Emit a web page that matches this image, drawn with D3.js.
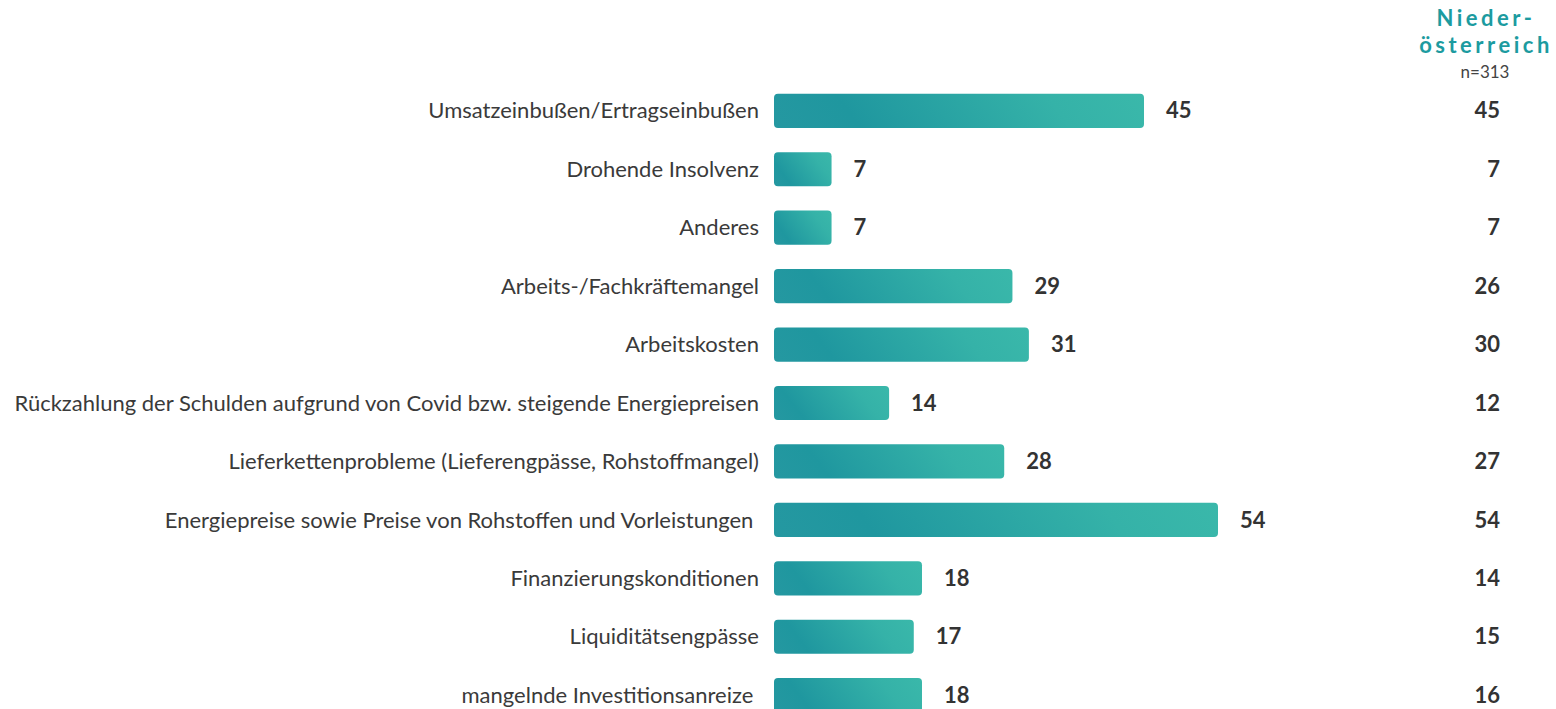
<!DOCTYPE html>
<html><head><meta charset="utf-8">
<script src="https://cdn.jsdelivr.net/npm/d3@7/dist/d3.min.js"></script>
<style>
html,body{margin:0;padding:0;background:#fff;}
text{font-family:Lato,"Open Sans",sans-serif;}
</style></head>
<body><svg id="chart" width="1556" height="709"></svg>
<script>
const categories = [
  "Umsatzeinbußen/Ertragseinbußen",
  "Drohende Insolvenz",
  "Anderes",
  "Arbeits-/Fachkräftemangel",
  "Arbeitskosten",
  "Rückzahlung der Schulden aufgrund von Covid bzw. steigende Energiepreisen",
  "Lieferkettenprobleme (Lieferengpässe, Rohstoffmangel)",
  "Energiepreise sowie Preise von Rohstoffen und Vorleistungen ",
  "Finanzierungskonditionen",
  "Liquiditätsengpässe",
  "mangelnde Investitionsanreize "
];
const totalValues = [45, 7, 7, 29, 31, 14, 28, 54, 18, 17, 18];
const regionValues = [45, 7, 7, 26, 30, 12, 27, 54, 14, 15, 16];
const regionTitle = ["Nieder-", "österreich"];
const regionN = "n=313";

const svg = d3.select("#chart");
const defs = svg.append("defs");

const x = d3.scaleLinear().domain([0, 54]).range([774, 1218]);
const y = d3.scaleBand().domain(categories).range([82, 724]).paddingInner(0.415).paddingOuter(0.2);

// per-bar gradient, fixed diagonal angle in pixel space
const ux = 1, uy = -0.75, ul = Math.hypot(ux, uy);
categories.forEach((c, i) => {
  const x0 = x(0), w = x(totalValues[i]) - x(0), h = y.bandwidth();
  const yb = y(c) + h;
  const t = (w * ux + (-h) * uy) / ul;
  const g = defs.append("linearGradient").attr("id", "grad" + i)
    .attr("gradientUnits", "userSpaceOnUse")
    .attr("x1", x0).attr("y1", yb)
    .attr("x2", x0 + t * ux / ul).attr("y2", yb + t * uy / ul);
  g.append("stop").attr("offset", "0%").attr("stop-color", "#2598a1");
  g.append("stop").attr("offset", "22%").attr("stop-color", "#1f979f");
  g.append("stop").attr("offset", "75%").attr("stop-color", "#35b2a8");
  g.append("stop").attr("offset", "100%").attr("stop-color", "#3ab8aa");
});

const rows = svg.append("g").selectAll("g").data(categories).join("g");

rows.append("rect")
  .attr("x", x(0))
  .attr("y", d => y(d))
  .attr("width", (d,i) => x(totalValues[i]) - x(0))
  .attr("height", y.bandwidth())
  .attr("rx", 4).attr("ry", 4)
  .attr("fill", (d,i) => `url(#grad${i})`);

rows.append("text")
  .attr("x", 759)
  .attr("y", d => y(d) + y.bandwidth()/2)
  .attr("dy", "0.35em")
  .attr("text-anchor", "end")
  .style("white-space", "pre")
  .attr("font-size", 22)
  .attr("fill", "#3a3a3a")
  .text(d => d);

rows.append("text")
  .attr("x", (d,i) => x(totalValues[i]) + 22)
  .attr("y", d => y(d) + y.bandwidth()/2)
  .attr("dy", "0.35em")
  .attr("font-size", 22)
  .attr("font-weight", "bold")
  .attr("fill", "#333")
  .text((d,i) => totalValues[i]);

rows.append("text")
  .attr("x", 1500)
  .attr("y", d => y(d) + y.bandwidth()/2)
  .attr("dy", "0.35em")
  .attr("text-anchor", "end")
  .attr("font-size", 22)
  .attr("font-weight", "bold")
  .attr("fill", "#333")
  .text((d,i) => regionValues[i]);

const hdr = svg.append("g");
hdr.selectAll("text.t").data(regionTitle).join("text")
  .attr("class","t")
  .attr("x", 1486)
  .attr("y", (d,i) => 26 + i*27)
  .attr("text-anchor", "middle")
  .attr("font-size", 22)
  .attr("font-weight", "bold")
  .attr("letter-spacing", "3.5px")
  .attr("fill", "#1c9ba0")
  .text(d => d);
hdr.append("text")
  .attr("x", 1485).attr("y", 78)
  .attr("text-anchor","middle")
  .attr("font-size", 17)
  .attr("fill", "#444")
  .text(regionN);
</script></body></html>
